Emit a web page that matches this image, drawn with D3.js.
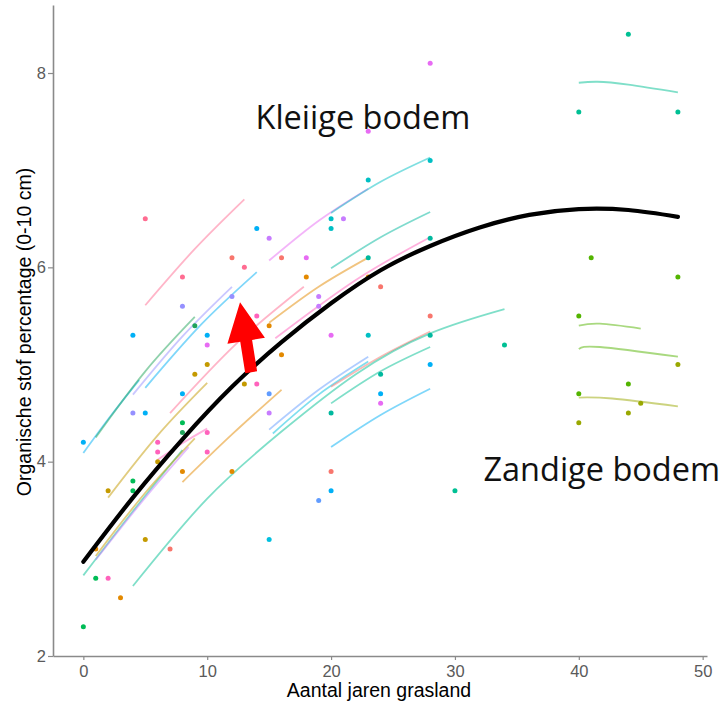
<!DOCTYPE html>
<html>
<head>
<meta charset="utf-8">
<script src="https://cdn.jsdelivr.net/npm/d3@7"></script>
<style>
body { margin: 0; background: #fff; }
</style>
</head>
<body>
<div id="chart"></div>
<script>
// ---- data ----
var xTicks = [0, 10, 20, 30, 40, 50];
var yTicks = [2, 4, 6, 8];

var groups = ["g1","g2","g3","g4","g5","g6","g7","g8","g9","g10","g11","g12","g13","g14","g15","g16","g17","g18"];

// measured points
var ptX = [0,0,1,1,2,2,3,4,4,4,4,5,5,5,6,6,6,7,8,8,8,8,8,8,9,9,10,10,10,10,10,12,12,12,13,13,14,14,14,
           15,15,15,15,15,16,16,18,18,19,19,19,20,20,20,20,20,20,21,23,23,23,23,23,24,24,24,24,
           28,28,28,28,28,28,30,34,40,44,48,41,48,40,44,40,45,48,44,40];
var ptY = [2.3,4.2,2.8,3.1,2.8,3.7,2.6,3.8,3.7,4.5,5.3,3.2,4.5,6.5,4.2,4.1,4.0,3.1,5.9,5.6,4.7,4.4,4.3,3.9,5.4,4.9,5.3,5.2,5.0,4.3,4.1,6.1,5.7,3.9,6.0,4.8,6.4,5.5,4.8,
           6.3,5.4,4.7,4.5,3.2,6.1,5.1,6.1,5.9,5.7,5.6,3.6,6.5,6.4,5.3,4.5,3.9,3.7,6.5,7.4,6.9,6.1,5.9,5.3,5.8,4.9,4.7,4.6,
           8.1,7.1,6.3,5.5,5.3,5.0,3.7,5.2,7.6,8.4,7.6,6.1,5.9,5.5,4.8,4.7,4.6,5.0,4.5,4.4];
var ptGroup = ["g7","g11","g7","g3","g17","g4","g3","g7","g7","g14","g11","g4","g11","g2","g17","g17","g4","g1","g2","g14","g11","g7","g8","g3","g8","g4","g11","g16","g4","g17","g17","g1","g14","g3","g2","g4","g11","g17","g17",
               "g15","g3","g13","g15","g12","g1","g3","g16","g3","g15","g15","g13","g10","g10","g16","g18","g1","g11","g15","g16","g10","g18","g3","g10","g1","g18","g11","g16",
               "g16","g10","g18","g1","g18","g11","g9","g9","g9","g9","g9","g6","g6","g6","g6","g6","g5","g5","g5","g5"];

// overall fitted curve
var fixX = [0, 4, 8, 12, 16, 20, 24, 28, 32, 36, 40, 44, 48];
var fixY = [2.97, 3.63, 4.23, 4.77, 5.23, 5.63, 5.97, 6.22, 6.41, 6.54, 6.60, 6.59, 6.52];

// per-group fitted curves
var lineGroup = ["g2","g11","g8","g14","g11","g16","g10","g18","g3","g2","g17","g4","g17","g9","g4","g15","g3","g13","g12","g1","g9","g9","g11","g9","g6","g6","g5"];
var lineX = [
  [5, 9, 13], [0, 2.2, 4.5], [1, 5, 9], [4, 8, 12], [5, 9.5, 14],
  [15, 19, 23], [20, 24, 28], [20, 24, 28], [15, 19, 23], [7, 12.4, 17.8],
  [15.5, 22, 28], [2, 6, 10], [6, 8, 10], [0, 4, 8], [1, 5, 9],
  [1, 5, 8.5], [8, 12, 16], [15, 19, 23], [15.3, 19, 23], [20, 24, 28],
  [20, 24, 28], [4, 10, 16, 22, 28, 34], [20, 24, 28], [40, 41.5, 44, 48], [40, 41.7, 45],
  [40, 41.7, 48], [40, 42.7, 48]
];
var lineY = [
  [5.61, 6.19, 6.70], [4.09, 4.47, 4.84], [4.25, 4.93, 5.49], [4.69, 5.29, 5.80], [4.76, 5.41, 5.95],
  [6.07, 6.48, 6.81], [6.56, 6.88, 7.13], [5.99, 6.31, 6.57], [5.43, 5.80, 6.10], [4.50, 5.22, 5.80],
  [5.27, 5.87, 6.31], [3.63, 4.27, 4.81], [4.02, 4.19, 4.34], [2.83, 3.49, 4.12], [3.03, 3.68, 4.24],
  [2.99, 3.63, 4.15], [3.79, 4.28, 4.74], [4.33, 4.74, 5.08], [4.29, 4.69, 5.03], [4.77, 5.08, 5.34],
  [4.60, 4.93, 5.18], [2.72, 3.62, 4.31, 4.90, 5.32, 5.57], [4.15, 4.48, 4.75], [7.90, 7.91, 7.88, 7.80], [5.40, 5.42, 5.37],
  [5.16, 5.18, 5.08], [4.66, 4.65, 4.57]
];

// arrow (from, to) in data units
var arrowFrom = [13.55, 4.92];
var arrowTo = [12.65, 5.64];

var width = 721, height = 702;

var colour = d3.scaleOrdinal()
    .domain(groups)
    .range(["#F8766D","#FF6C91","#E38900","#C49A00","#99A800","#53B400","#00BC56","#1FA35A","#00C094",
            "#00BFC4","#00B0F6","#00C0E0","#619CFF","#9590FF","#C77CFF","#E76BF3","#FF62BC","#00B89E"]);

var x = d3.scaleLinear().domain([-2.45, 50.35]).range([53, 707]);
var y = d3.scaleLinear().domain([2, 8.7]).range([656, 5]);

var svg = d3.select('#chart').append('svg')
    .attr('width', width)
    .attr('height', height)
    .style('font-family', '"Liberation Sans", Arial, sans-serif');

// axes
var xAxis = svg.append('g')
    .attr('transform', 'translate(0,' + y(2) + ')')
    .call(d3.axisBottom(x).tickValues(xTicks).tickFormat(d3.format('d'))
        .tickSize(4).tickSizeOuter(0).tickPadding(5));

var yAxis = svg.append('g')
    .attr('transform', 'translate(' + x.range()[0] + ',0)')
    .call(d3.axisLeft(y).tickValues(yTicks).tickFormat(d3.format('d'))
        .tickSize(5).tickSizeOuter(0).tickPadding(2));

[xAxis, yAxis].forEach(function(a) {
    a.select('.domain').style('stroke', '#8a8a8a').style('stroke-width', 1.6);
    a.selectAll('.tick line').style('stroke', '#8a8a8a').style('stroke-width', 1.2);
    a.selectAll('.tick text')
        .style('fill', '#5a5a5a')
        .style('font-size', '16.5px')
        .style('font-family', '"Liberation Sans", Arial, sans-serif');
});

// group curves
var line = d3.line()
    .x(function(d) { return x(d[0]); })
    .y(function(d) { return y(d[1]); })
    .curve(d3.curveNatural);

svg.append('g').attr('class', 'groupLines')
    .selectAll('path')
    .data(lineX.map(function(xs, i) {
        return { g: lineGroup[i], pts: xs.map(function(v, j) { return [v, lineY[i][j]]; }) };
    }))
    .enter().append('path')
    .attr('d', function(d) { return line(d.pts); })
    .style('fill', 'none')
    .style('stroke', function(d) { return colour(d.g); })
    .style('stroke-opacity', 0.5)
    .style('stroke-width', 1.8);

// points
svg.append('g').attr('class', 'points')
    .selectAll('circle')
    .data(ptX.map(function(v, i) { return { x: v, y: ptY[i], g: ptGroup[i] }; }))
    .enter().append('circle')
    .attr('cx', function(d) { return x(d.x); })
    .attr('cy', function(d) { return y(d.y); })
    .attr('r', 2.5)
    .style('fill', function(d) { return colour(d.g); });

// overall curve
svg.append('path')
    .datum(fixX.map(function(v, i) { return [v, fixY[i]]; }))
    .attr('d', line)
    .style('fill', 'none')
    .style('stroke', '#000')
    .style('stroke-width', 4.2)
    .style('stroke-linecap', 'round');

// red arrow
(function() {
    var x0 = x(arrowFrom[0]), y0 = y(arrowFrom[1]);
    var x1 = x(arrowTo[0]), y1 = y(arrowTo[1]);
    var dx = x1 - x0, dy = y1 - y0, len = Math.sqrt(dx * dx + dy * dy);
    var ux = dx / len, uy = dy / len, nx = -uy, ny = ux;
    var headLen = 39, headW = 19, shaftW = 6;
    var bx = x1 - ux * headLen, by = y1 - uy * headLen;
    var pts = [
        [x1, y1],
        [bx + nx * headW, by + ny * headW],
        [bx + nx * shaftW, by + ny * shaftW],
        [x0 + nx * shaftW, y0 + ny * shaftW],
        [x0 - nx * shaftW, y0 - ny * shaftW],
        [bx - nx * shaftW, by - ny * shaftW],
        [bx - nx * headW, by - ny * headW]
    ];
    svg.append('polygon')
        .attr('points', pts.map(function(p) { return p.join(','); }).join(' '))
        .style('fill', '#FF0000');
})();

// annotations
svg.append('text')
    .attr('x', x(13.9)).attr('y', y(7.42))
    .text('Kleiige bodem')
    .style('font-family', '"Open Sans", "Noto Sans", sans-serif')
    .style('font-size', '32.5px')
    .style('fill', '#111');

svg.append('text')
    .attr('x', x(32.3)).attr('y', y(3.80))
    .text('Zandige bodem')
    .style('font-family', '"Open Sans", "Noto Sans", sans-serif')
    .style('font-size', '32.5px')
    .style('fill', '#111');

// axis titles
svg.append('text')
    .attr('x', 379).attr('y', 697)
    .attr('text-anchor', 'middle')
    .text('Aantal jaren grasland')
    .style('font-size', '19.5px')
    .style('fill', '#000');

svg.append('text')
    .attr('transform', 'translate(31,332) rotate(-90)')
    .attr('text-anchor', 'middle')
    .text('Organische stof percentage (0-10 cm)')
    .style('font-size', '19.5px')
    .style('fill', '#000');
</script>
</body>
</html>
